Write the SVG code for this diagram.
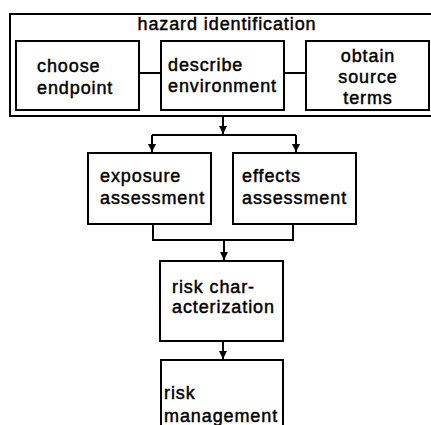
<svg xmlns="http://www.w3.org/2000/svg" width="431" height="425" viewBox="0 0 431 425">
<defs>
<style>
.box{fill:#fff;stroke:#000;stroke-width:2}
.ln{fill:none;stroke:#000;stroke-width:2}
.t{font-family:"Liberation Sans",Arial,sans-serif;font-size:18px;letter-spacing:0.9px;fill:#000;stroke:#000;stroke-width:0.45px}
.c{text-anchor:middle}
</style>
<marker id="ah" markerUnits="userSpaceOnUse" markerWidth="10" markerHeight="10" viewBox="0 0 10 10" refX="8" refY="5" orient="auto">
<path d="M0,1 L8,5 L0,9 Z" fill="#000"/>
</marker>
</defs>
<rect width="431" height="425" fill="#fff"/>
<g id="hazard-identification">
<rect class="box" x="10" y="14" width="424" height="102"/>
<text class="t c" x="227" y="30">hazard identification</text>
</g>
<g id="choose-endpoint">
<rect class="box" x="16" y="41" width="123" height="69"/>
<text class="t" x="37" y="72">choose</text>
<text class="t" x="37" y="94">endpoint</text>
</g>
<g id="describe-environment">
<rect class="box" x="161" y="41" width="123" height="69"/>
<text class="t" x="168" y="71">describe</text>
<text class="t" x="168" y="92">environment</text>
</g>
<g id="obtain-source-terms">
<rect class="box" x="306" y="41" width="123" height="69"/>
<text class="t c" x="368" y="62">obtain</text>
<text class="t c" x="368" y="83">source</text>
<text class="t c" x="368" y="104">terms</text>
</g>
<g id="exposure-assessment">
<rect class="box" x="88" y="153" width="123" height="71"/>
<text class="t" x="100" y="182">exposure</text>
<text class="t" x="100" y="204">assessment</text>
</g>
<g id="effects-assessment">
<rect class="box" x="233" y="153" width="123" height="71"/>
<text class="t" x="242" y="182">effects</text>
<text class="t" x="242" y="204">assessment</text>
</g>
<g id="risk-characterization">
<rect class="box" x="160" y="261" width="123" height="80"/>
<text class="t" x="172" y="293">risk char-</text>
<text class="t" x="172" y="313">acterization</text>
</g>
<g id="risk-management">
<rect class="box" x="161" y="360" width="122" height="70"/>
<text class="t" x="164" y="399">risk</text>
<text class="t" x="164" y="422">management</text>
</g>
<g id="connectors">
<path class="ln" d="M139,73 H161 M284,73 H306"/>
<path class="ln" d="M152,135 H296"/>
<path class="ln" d="M223,117 V134" marker-end="url(#ah)"/>
<path class="ln" d="M152,135 V152" marker-end="url(#ah)"/>
<path class="ln" d="M296,135 V152" marker-end="url(#ah)"/>
<path class="ln" d="M153,224 V240 H293 V224"/>
<path class="ln" d="M224,240 V260" marker-end="url(#ah)"/>
<path class="ln" d="M223,341 V359" marker-end="url(#ah)"/>
</g>
</svg>
